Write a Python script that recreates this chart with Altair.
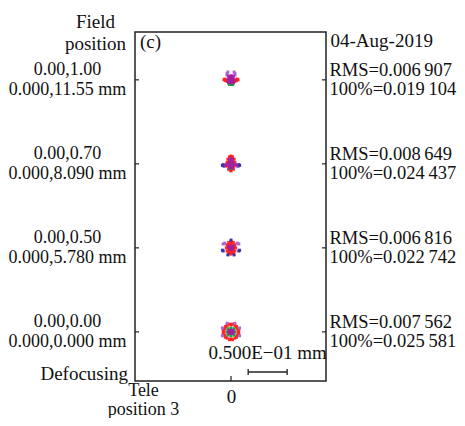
import altair as alt
import pandas as pd

# ---- labels / values ----
field_pos = ["0.00,1.00", "0.00,0.70", "0.00,0.50", "0.00,0.00"]
field_mm = ["0.000,11.55 mm", "0.000,8.090 mm", "0.000,5.780 mm", "0.000,0.000 mm"]
rms_vals = ["0.006\u2009907", "0.008\u2009649", "0.006\u2009816", "0.007\u2009562"]
pct_vals = ["0.019\u2009104", "0.024\u2009437", "0.022\u2009742", "0.025\u2009581"]
date_text = "04-Aug-2019"
scale_label = "0.500E\u221201 mm"
scale_len_mm = [0.05]
scale_start_mm = [0.022]

# spot diagram ray intercepts (dx, dy) in micrometres, per field and wavelength colour
f1_red = [(-6, 0), (-8, 1), (-7, -1), (-9, 0), (6, 0), (8, 1), (7, -1), (9, 0), (-5, -2), (5, -2)]
f1_magenta = [(0, 0), (-2, 0), (2, 0), (0, 2), (0, -2), (-2, 2), (2, 2), (-2, -2), (2, -2),
              (-4, 0), (4, 0), (0, 4), (0, -4), (-3, 4), (3, 4), (-3, -3), (3, -3), (-1, 5), (1, 5)]
f1_violet = [(-5, 6), (5, 6), (-5, 8), (5, 8), (-4, 10), (4, 10)]
f1_green = [(-1, -5), (1, -5), (0, -6), (-2, -6), (2, -6)]
f1_blue = [(-3, -4), (3, -4)]

f2_red = [(0, 10), (-2, 9), (2, 9), (-4, 6), (4, 6), (-5, 2), (5, 2), (-5, -3), (4, -3),
          (-3, -7), (3, -7), (0, -9), (-1, -8), (1, 8)]
f2_magenta = [(0, 0), (-2, 2), (2, 2), (-2, -2), (2, -2), (0, 4), (0, -4), (-3, 0), (3, 0),
              (0, 7), (-2, 5), (2, 5), (-2, -5), (2, -5), (-6, -1), (6, -1), (-8, -2), (8, -2)]
f2_blue = [(-10, -1), (10, -1), (-11, -2), (11, -2), (-9, -3), (9, -3)]
f2_green = [(0, -6), (-1, -5), (1, -5)]

f3_red = [(0, 8), (-3, 7), (3, 7), (-5, 4), (5, 4), (-6, 0), (6, 0), (-5, -4), (5, -4),
          (-3, -7), (3, -7), (0, -8), (-2, 3), (2, 3), (0, -4), (-3, -2), (3, -2), (-4, 1), (4, 1),
          (0, 5), (-2, -5), (2, -5)]
f3_magenta = [(0, 0), (-2, 0), (2, 0), (0, 2), (-1, -2), (1, -2), (-3, 2), (3, 2)]
f3_blue = [(0, 10), (-11, -3), (11, -3), (-10, -4), (10, -4), (-4, -9), (4, -9)]
f3_violet = [(-10, 5), (10, 5), (-8, 6), (8, 6)]

f4_red = [(9, 0), (8, 4), (5, 8), (0, 9), (-5, 8), (-8, 4), (-9, 0), (-8, -4), (-5, -8),
          (0, -9), (5, -8), (8, -4), (10, 2), (2, 10), (-10, 2), (-2, -10), (10, -2), (-2, 10),
          (-10, -2), (2, -10), (7, 7), (-7, 7), (-7, -7), (7, -7)]
f4_green = [(5, 0), (4, 4), (0, 5), (-4, 4), (-5, 0), (-4, -4), (0, -5), (4, -4)]
f4_magenta = [(0, 0), (2, 0), (-2, 0), (0, 2), (0, -2), (2, 2), (-2, 2), (2, -2), (-2, -2), (3, 0), (-3, 0)]
f4_violet = [(11, 5), (-11, 5), (11, -5), (-11, -5), (5, 11), (-5, 11)]

spot_sets = [
    [("red", f1_red), ("blue", f1_blue), ("green", f1_green), ("violet", f1_violet), ("magenta", f1_magenta)],
    [("red", f2_red), ("blue", f2_blue), ("green", f2_green), ("magenta", f2_magenta)],
    [("red", f3_red), ("blue", f3_blue), ("violet", f3_violet), ("magenta", f3_magenta)],
    [("red", f4_red), ("green", f4_green), ("violet", f4_violet), ("magenta", f4_magenta)],
]

left_keys = [f"{a}|{b}" for a, b in zip(field_pos, field_mm)]
right_keys = [f"RMS={a}|100%={b}" for a, b in zip(rms_vals, pct_vals)]

rows = []
order = 0
for i, sets in enumerate(spot_sets):
    for col, pts in sets:
        for dx, dy in pts:
            rows.append({"left": left_keys[i], "col": col, "dx_mm": dx / 1000.0,
                         "dy_mm": dy / 1000.0, "ord": order})
            order += 1
spots_df = pd.DataFrame(rows)
rows_df = pd.DataFrame({"left": left_keys, "right": right_keys})
bar_df = pd.DataFrame({"x1": scale_start_mm, "len": scale_len_mm})
bar_df["x2"] = bar_df["x1"] + bar_df["len"]
bar_df["xm"] = (bar_df["x1"] + bar_df["x2"]) / 2
bar_df["label"] = [scale_label]

F = "Liberation Serif"
FS = 19
FSL = 18
FSR = 18.5
W, H = 191, 349
PX_PER_MM = 780.0
x_left = -96 / PX_PER_MM
x_right = (W - 96) / PX_PER_MM
half_band = 42 / PX_PER_MM

xscale = alt.Scale(domain=[x_left, x_right], nice=False, zero=False)
xaxis = alt.Axis(values=[0], labelExpr="'0'", ticks=False, tickSize=0, domain=False, grid=False,
                 labelFont=F, labelFontSize=FS, labelColor="#111", labelPadding=6,
                 title=["Tele", "position  3"], titleFont=F, titleFontSize=18,
                 titleFontWeight="normal", titleColor="#111", titleAlign="center",
                 titleBaseline="alphabetic", titleX=8, titleY=14, titleLineHeight=19)
yband = alt.Scale(paddingInner=0, paddingOuter=0.077, align=0.45)

yaxis_left = alt.Axis(title=["Field", "position"], labelExpr="split(datum.label, '|')",
                      labelAlign="center", labelBaseline="middle", labelPadding=68,
                      labelOffset=-10, labelLineHeight=20, ticks=False, tickSize=0,
                      domain=False, grid=False,
                      labelFont=F, labelFontSize=FSL, labelColor="#111", labelLimit=0,
                      titleFont=F, titleFontSize=FS, titleFontWeight="normal", titleColor="#111",
                      titleAngle=0, titleAlign="center", titleBaseline="alphabetic",
                      titleX=-40, titleY=-5, titleLineHeight=22)
yaxis_right = alt.Axis(orient="right", title=date_text, labelExpr="split(datum.label, '|')",
                       labelAlign="left", labelBaseline="middle", labelPadding=3,
                       labelOffset=-9.5, labelLineHeight=19, ticks=False, tickSize=0,
                       domain=False, grid=False,
                       labelFont=F, labelFontSize=FSR, labelColor="#111", labelLimit=0,
                       titleFont=F, titleFontSize=FS, titleFontWeight="normal", titleColor="#111",
                       titleAngle=0, titleAlign="left", titleBaseline="middle",
                       titleX=4, titleY=8)

color_scale = alt.Scale(domain=["red", "blue", "green", "violet", "magenta"],
                        range=["#ff1f1f", "#2b2fb0", "#1e9b3c", "#a860d0", "#a3209e"])

spots = alt.Chart(spots_df).mark_square(size=9, opacity=0.95).encode(
    x=alt.X("dx_mm:Q", scale=xscale, axis=xaxis),
    y=alt.Y("left:N", sort=left_keys, scale=yband, axis=yaxis_left),
    yOffset=alt.YOffset("dy_mm:Q", scale=alt.Scale(domain=[half_band, -half_band])),
    color=alt.Color("col:N", scale=color_scale, legend=None),
    order=alt.Order("ord:Q"),
)

lticks = alt.Chart(rows_df).mark_rule(color="#222", strokeWidth=1.2).encode(
    y=alt.Y("left:N", sort=left_keys, scale=yband, axis=yaxis_left),
    x=alt.value(0), x2=alt.value(4),
)

bticks = alt.Chart(rows_df.head(1)).mark_rule(color="#222", strokeWidth=1.2).encode(
    x=alt.datum(0, scale=xscale, axis=xaxis),
    y=alt.value(H - 5), y2=alt.value(H),
)

bar = alt.Chart(bar_df).mark_rule(color="#222", strokeWidth=1.3).encode(
    x=alt.X("x1:Q", scale=xscale, axis=xaxis), x2="x2:Q", y=alt.value(340),
)
cap1 = alt.Chart(bar_df).mark_rule(color="#222", strokeWidth=1.3).encode(
    x=alt.X("x1:Q", scale=xscale, axis=xaxis), y=alt.value(337), y2=alt.value(343),
)
cap2 = alt.Chart(bar_df).mark_rule(color="#222", strokeWidth=1.3).encode(
    x=alt.X("x2:Q", scale=xscale, axis=xaxis), y=alt.value(337), y2=alt.value(343),
)
bar_text = alt.Chart(bar_df).mark_text(font=F, fontSize=FS, color="#111", baseline="middle").encode(
    x=alt.X("xm:Q", scale=xscale, axis=xaxis), y=alt.value(321), text="label:N",
)

notes_df = pd.DataFrame({"t": ["(c)"]})
c_text = alt.Chart(notes_df).mark_text(font=F, fontSize=FS, color="#111", align="left",
                                       baseline="middle").encode(
    x=alt.value(5), y=alt.value(10), text="t:N")
defoc_df = pd.DataFrame({"t": ["Defocusing"]})
defoc = alt.Chart(defoc_df).mark_text(font=F, fontSize=FS, color="#111", align="right",
                                      baseline="middle").encode(
    x=alt.value(-7), y=alt.value(342), text="t:N")

left_layer = alt.layer(spots, lticks, bticks, bar, cap1, cap2, bar_text, c_text, defoc)

rticks = alt.Chart(rows_df).mark_rule(color="#222", strokeWidth=1.2).encode(
    y=alt.Y("right:N", sort=right_keys, scale=yband, axis=yaxis_right),
    x=alt.value(W - 4), x2=alt.value(W),
)

chart = alt.layer(left_layer, rticks).resolve_scale(y="independent").properties(
    width=W, height=H,
    background="white",
    autosize=alt.AutoSizeParams(type="none"),
    padding={"left": 127, "top": 24, "right": 131, "bottom": 37},
).configure_view(stroke="#222", strokeWidth=1.5)

chart.save("out.html", embed_options={"renderer": "svg", "actions": False})
